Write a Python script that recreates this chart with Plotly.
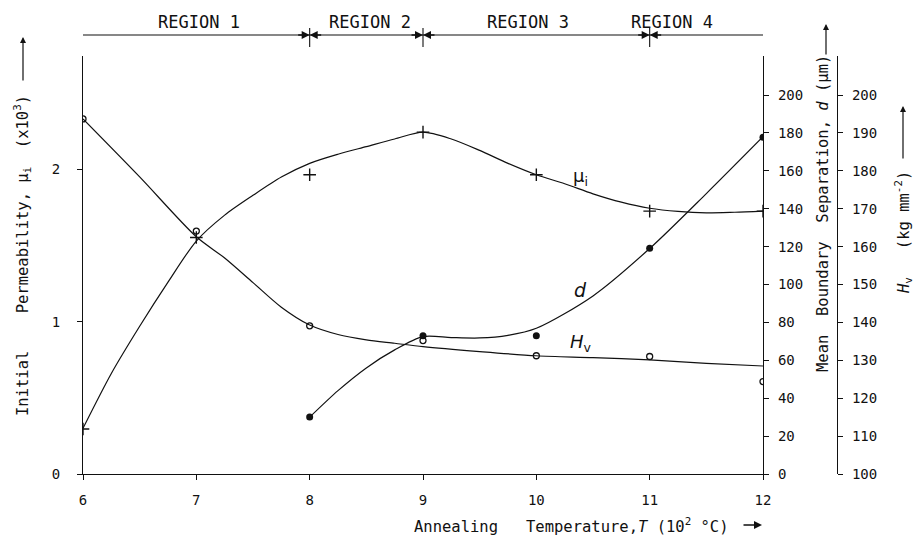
import plotly.graph_objects as go

# ---------------- data ----------------
T = [6, 7, 8, 9, 10, 11, 12]
mu_pts = [0.296, 1.553, 1.965, 2.245, 1.965, 1.726, 1.726]
Hv_pts = [193.7, 164.1, 139.1, 135.2, 131.2, 131.0, 124.4]
d_T = [8, 9, 10, 11, 12]
d_pts = [30.1, 73.0, 73.0, 119.1, 177.7]

# hand-drawn smooth curves
mu_fit_T = [6, 6.25, 6.5, 6.75, 7, 7.25, 7.5, 7.75, 8, 8.25, 8.5, 8.75, 9,
            9.25, 9.5, 9.75, 10, 10.25, 10.5, 10.75, 11, 11.25, 11.5, 11.75, 12]
mu_fit = [0.30, 0.66, 0.97, 1.26, 1.53, 1.70, 1.83, 1.95, 2.04, 2.10, 2.15, 2.20, 2.245,
          2.20, 2.125, 2.04, 1.965, 1.906, 1.84, 1.785, 1.745, 1.724, 1.715, 1.719, 1.726]
d_fit_T = [8, 8.25, 8.5, 8.75, 9, 9.25, 9.5, 9.75, 10, 10.5, 11, 11.5, 12]
d_fit = [30, 44, 56, 65.5, 72.5, 72.0, 71.8, 73.2, 76.9, 94, 119, 148, 178]
Hv_fit_T = [6, 6.5, 7, 7.25, 7.5, 7.75, 8, 8.25, 8.5, 8.75, 9, 9.5, 10, 10.5, 11, 11.5, 12]
Hv_fit = [193.7, 178.4, 162.6, 157.0, 150.5, 144.0, 139.3, 136.8, 135.4, 134.5, 133.6,
          132.3, 131.2, 130.7, 130.1, 129.2, 128.5]

x_ticks = [6, 7, 8, 9, 10, 11, 12]
mu_ticks = [0, 1, 2]
d_ticks = [0, 20, 40, 60, 80, 100, 120, 140, 160, 180, 200]
Hv_ticks = [100, 110, 120, 130, 140, 150, 160, 170, 180, 190, 200]
region_bounds = [8, 9, 11]
region_labels = ["REGION 1", "REGION 2", "REGION 3", "REGION 4"]
region_centers = [7.02, 8.53, 9.93, 11.2]

FONT = "DejaVu Sans Mono, Liberation Mono, monospace"
LFONT = "DejaVu Sans, Liberation Sans, sans-serif"
INK = "#111111"
NB = "\u00a0"

fig = go.Figure()

line_style = dict(color=INK, width=1.2, shape="spline", smoothing=0.8)
fig.add_trace(go.Scatter(x=mu_fit_T, y=mu_fit, mode="lines", yaxis="y", line=line_style,
                         showlegend=False, hoverinfo="skip"))
fig.add_trace(go.Scatter(x=d_fit_T, y=d_fit, mode="lines", yaxis="y2", line=line_style,
                         showlegend=False, hoverinfo="skip"))
fig.add_trace(go.Scatter(x=Hv_fit_T, y=Hv_fit, mode="lines", yaxis="y3", line=line_style,
                         showlegend=False, hoverinfo="skip"))
fig.add_trace(go.Scatter(x=T, y=mu_pts, mode="markers", yaxis="y",
                         marker=dict(symbol="cross-thin", size=9, line=dict(color=INK, width=1.4)),
                         showlegend=False))
fig.add_trace(go.Scatter(x=d_T, y=d_pts, mode="markers", yaxis="y2",
                         marker=dict(symbol="circle", size=7, color=INK),
                         showlegend=False))
fig.add_trace(go.Scatter(x=T, y=Hv_pts, mode="markers", yaxis="y3",
                         marker=dict(symbol="circle-open", size=6, color=INK, line=dict(width=1.3)),
                         showlegend=False))

tickfont = dict(family=FONT, size=14, color=INK)
axis_common = dict(showgrid=False, zeroline=False, showline=True, linecolor=INK,
                   linewidth=1.2, ticks="outside", ticklen=5, tickcolor=INK, tickwidth=1,
                   tickfont=tickfont)

DOM_END = 680 / 754
fig.update_layout(
    width=916, height=544, autosize=False,
    margin=dict(l=83, r=79, t=56, b=70, pad=0),
    paper_bgcolor="white", plot_bgcolor="white",
    xaxis=dict(domain=[0, DOM_END], range=[6, 12], tickvals=x_ticks, ticklabelstandoff=8,
               **axis_common),
    yaxis=dict(range=[0, 2.745], tickvals=mu_ticks, ticklabelstandoff=14, **axis_common),
    yaxis2=dict(range=[0, 220.6], tickvals=d_ticks, overlaying="y", side="right", anchor="x",
                ticklabelstandoff=6, **axis_common),
    yaxis3=dict(range=[100, 210.3], tickvals=Hv_ticks, overlaying="y", side="right",
                anchor="free", position=1.0, ticklabelstandoff=6, **axis_common),
)


def py(px):
    return (474 - px) / 418.0


def pxx(px):
    return (px - 83) / 754.0


shapes = [dict(type="line", xref="x", yref="paper", x0=6, x1=12, y0=py(35), y1=py(35),
               line=dict(color=INK, width=1.1))]
for b in region_bounds:
    shapes.append(dict(type="line", xref="x", yref="paper", x0=b, x1=b, y0=py(28), y1=py(47),
                       line=dict(color=INK, width=1.1)))
fig.update_layout(shapes=shapes)

ann = []
for lab, c in zip(region_labels, region_centers):
    ann.append(dict(text=lab, x=c, y=py(22), xref="x", yref="paper", showarrow=False,
                    xanchor="center", yanchor="middle",
                    font=dict(family=FONT, size=17, color=INK)))
for b in region_bounds:
    for off in (-13, 13):
        ann.append(dict(text="", x=b, y=py(35), xref="x", yref="paper", showarrow=True,
                        ax=off, ay=0, arrowhead=2, arrowsize=1, arrowwidth=1.6,
                        arrowcolor=INK, standoff=0))

titlefont = dict(family=FONT, size=15.5, color=INK)
common_t = dict(xref="paper", yref="paper", showarrow=False, xanchor="center",
                yanchor="middle", font=titlefont)
ann.append(dict(text="Initial" + NB * 4 + "Permeability," + NB + "μ<sub>i</sub>" + NB * 2
                + "(x10<sup>3</sup>)",
                x=pxx(22), y=py(256), textangle=-90, **common_t))
ann.append(dict(text="", x=pxx(23), y=py(37), xref="paper", yref="paper", showarrow=True,
                ax=0, ay=45, arrowhead=2, arrowsize=1, arrowwidth=1.2, arrowcolor=INK))
ann.append(dict(text="Mean" + NB * 2 + "Boundary" + NB * 2 + "Separation," + NB + "<i>d</i>"
                + NB + "(μm)",
                x=pxx(823), y=py(214), textangle=-90, **common_t))
ann.append(dict(text="", x=pxx(826), y=py(24), xref="paper", yref="paper", showarrow=True,
                ax=0, ay=32, arrowhead=2, arrowsize=1, arrowwidth=1.2, arrowcolor=INK))
ann.append(dict(text="<i>H</i><sub>v</sub>" + NB * 3 + "(kg" + NB + "mm<sup>-2</sup>)",
                x=pxx(903), y=py(232), textangle=-90, **common_t))
ann.append(dict(text="", x=pxx(903), y=py(106), xref="paper", yref="paper", showarrow=True,
                ax=0, ay=54, arrowhead=2, arrowsize=1, arrowwidth=1.2, arrowcolor=INK))
ann.append(dict(text="Annealing" + NB * 3 + "Temperature,<i>T</i>" + NB + "(10<sup>2</sup>"
                + NB + "°C)",
                x=pxx(571), y=py(525), **common_t))
ann.append(dict(text="", x=pxx(762), y=py(525), xref="paper", yref="paper", showarrow=True,
                ax=-20, ay=0, arrowhead=2, arrowsize=1, arrowwidth=1.6, arrowcolor=INK))

# curve labels
ann.append(dict(text="μ<sub>i</sub>", x=10.39, y=156.7, xref="x", yref="y2", showarrow=False,
                xanchor="center", yanchor="middle", font=dict(family=LFONT, size=18, color=INK)))
ann.append(dict(text="<i>d</i>", x=10.39, y=97.1, xref="x", yref="y2", showarrow=False,
                xanchor="center", yanchor="middle", font=dict(family=LFONT, size=19, color=INK)))
ann.append(dict(text="<i>H</i><sub>v</sub>", x=10.39, y=69.1, xref="x", yref="y2",
                showarrow=False, xanchor="center", yanchor="middle",
                font=dict(family=LFONT, size=18, color=INK)))
fig.update_layout(annotations=ann)

fig.write_html("out.html")
